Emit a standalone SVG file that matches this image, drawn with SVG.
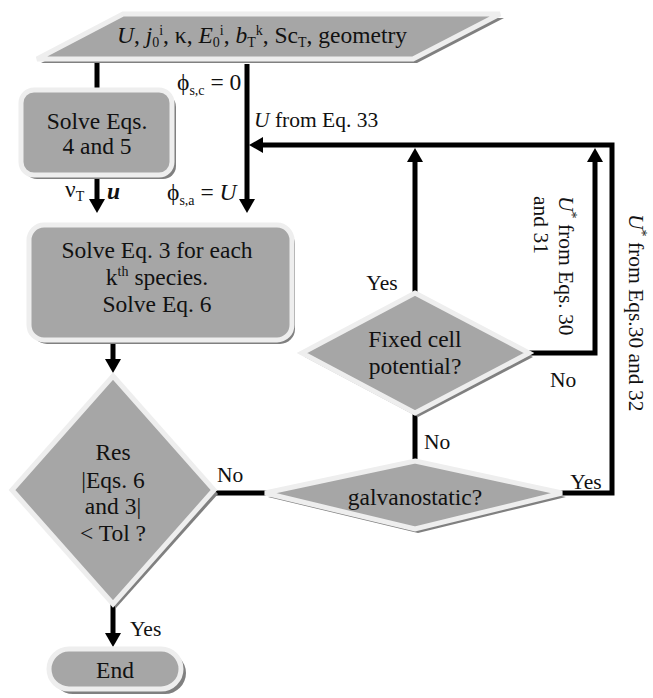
<svg xmlns="http://www.w3.org/2000/svg" width="653" height="698" viewBox="0 0 653 698" font-family="'Liberation Serif', 'DejaVu Serif', serif">
<defs>
<style>
text{font-family:'Liberation Serif','DejaVu Serif',serif;font-size:23.5px;fill:#111}
.c{text-anchor:middle}
.lb{font-size:21.5px}
.sh{fill:#808080}
.nd{fill:#a6a6a6;stroke:#eeeeee;stroke-width:5;stroke-linejoin:miter}
.ln{fill:none;stroke:#000;stroke-width:5;stroke-linejoin:miter}
.sb{font-size:14px}
</style>
<marker id="ah" markerUnits="userSpaceOnUse" markerWidth="14" markerHeight="16" viewBox="0 0 14 16" refX="4" refY="8" orient="auto">
<path d="M0,0 L14,8 L0,16 z" fill="#000"/>
</marker>
</defs>
<rect width="653" height="698" fill="#fff"/>

<g id="connectors">
<path class="ln" d="M97,62 V90"/>
<path class="ln" d="M97,177 V203" marker-end="url(#ah)"/>
<path class="ln" d="M247,64 V203" marker-end="url(#ah)"/>
<path class="ln" d="M113,343 V363" marker-end="url(#ah)"/>
<path class="ln" d="M113,604 V637" marker-end="url(#ah)"/>
<path class="ln" d="M212,493 H268"/>
<path class="ln" d="M415,413 V462"/>
<path class="ln" d="M560,493 H612 V145 H259" marker-end="url(#ah)"/>
<path class="ln" d="M415,292 V158" marker-end="url(#ah)"/>
<path class="ln" d="M528,353 H595 V158" marker-end="url(#ah)"/>
</g>

<g id="input">
<polygon class="sh" points="127,18 504,18 417,63 41,63"/>
<polygon class="nd" points="123,14 500,14 413,59 37,59"/>
<text class="c" x="262" y="43"><tspan font-style="italic">U</tspan>, <tspan font-style="italic">j</tspan><tspan class="sb" baseline-shift="-4">0</tspan><tspan class="sb" baseline-shift="8">i</tspan>, κ, <tspan font-style="italic">E</tspan><tspan class="sb" baseline-shift="-4">0</tspan><tspan class="sb" baseline-shift="8">i</tspan>, <tspan font-style="italic">b</tspan><tspan class="sb" baseline-shift="-4">T</tspan><tspan class="sb" baseline-shift="8">k</tspan>, Sc<tspan class="sb" baseline-shift="-4">T</tspan>, geometry</text>
</g>

<g id="solve45">
<rect class="sh" x="24" y="94" width="152" height="85" rx="13"/>
<rect class="nd" x="21" y="90" width="151" height="85" rx="13"/>
<text class="c" x="97" y="129" font-size="24.5">Solve Eqs.</text>
<text class="c" x="97" y="154" font-size="24.5">4 and 5</text>
</g>

<g id="solve3">
<rect class="sh" x="32" y="229" width="263" height="115" rx="15"/>
<rect class="nd" x="29" y="225" width="263" height="115" rx="15"/>
<text class="c" x="157" y="258">Solve Eq. 3 for each</text>
<text class="c" x="157" y="285">k<tspan class="sb" baseline-shift="9">th</tspan> species.</text>
<text class="c" x="157" y="312">Solve Eq. 6</text>
</g>

<g id="res">
<polygon class="sh" points="116,380 218,494 116,608 14,494"/>
<polygon class="nd" points="113,376 214,490 113,604 12,490"/>
<text class="c" x="113" y="460">Res</text>
<text class="c" x="113" y="488">|Eqs. 6</text>
<text class="c" x="113" y="514">and 3|</text>
<text class="c" x="113" y="541">&lt; Tol ?</text>
</g>

<g id="end">
<rect class="sh" x="52" y="652" width="134" height="42" rx="21"/>
<rect class="nd" x="49" y="649" width="132" height="40" rx="20"/>
<text class="c" x="115" y="678">End</text>
</g>

<g id="fixed">
<polygon class="sh" points="418,297 533,357 418,417 305,357"/>
<polygon class="nd" points="415,293 529,353 415,413 302,353"/>
<text class="c" x="415" y="347">Fixed cell</text>
<text class="c" x="415" y="374">potential?</text>
</g>

<g id="galvanostatic">
<polygon class="sh" points="418,465 566,497 418,533 268,497"/>
<polygon class="nd" points="415,461 562,493 415,529 265,493"/>
<text class="c" x="415" y="505">galvanostatic?</text>
</g>

<g id="labels">
<text x="177" y="90">ϕ<tspan class="sb" baseline-shift="-5">s,c</tspan> = 0</text>
<text x="167" y="200">ϕ<tspan class="sb" baseline-shift="-5">s,a</tspan> = <tspan font-style="italic">U</tspan></text>
<text x="65" y="197">ν<tspan class="sb" baseline-shift="-4">T</tspan></text>
<text x="107" y="199" font-weight="bold" font-style="italic">u</text>
<text class="lb" x="254" y="127"><tspan font-style="italic">U</tspan> from Eq. 33</text>
<text class="c lb" x="382" y="290">Yes</text>
<text class="lb" x="550" y="387">No</text>
<text class="lb" x="424" y="449">No</text>
<text class="c lb" x="586" y="489">Yes</text>
<text class="lb" x="217" y="482">No</text>
<text class="lb" x="130" y="636">Yes</text>
<text class="lb" transform="translate(559,196) rotate(90)"><tspan x="0" y="0"><tspan font-style="italic">U</tspan><tspan class="sb" baseline-shift="8">*</tspan> from Eqs. 30</tspan><tspan x="0" y="25">and 31</tspan></text>
<text class="lb" transform="translate(629,214) rotate(90)"><tspan font-style="italic">U</tspan><tspan class="sb" baseline-shift="8">*</tspan> from Eqs.30 and 32</text>
</g>
</svg>
